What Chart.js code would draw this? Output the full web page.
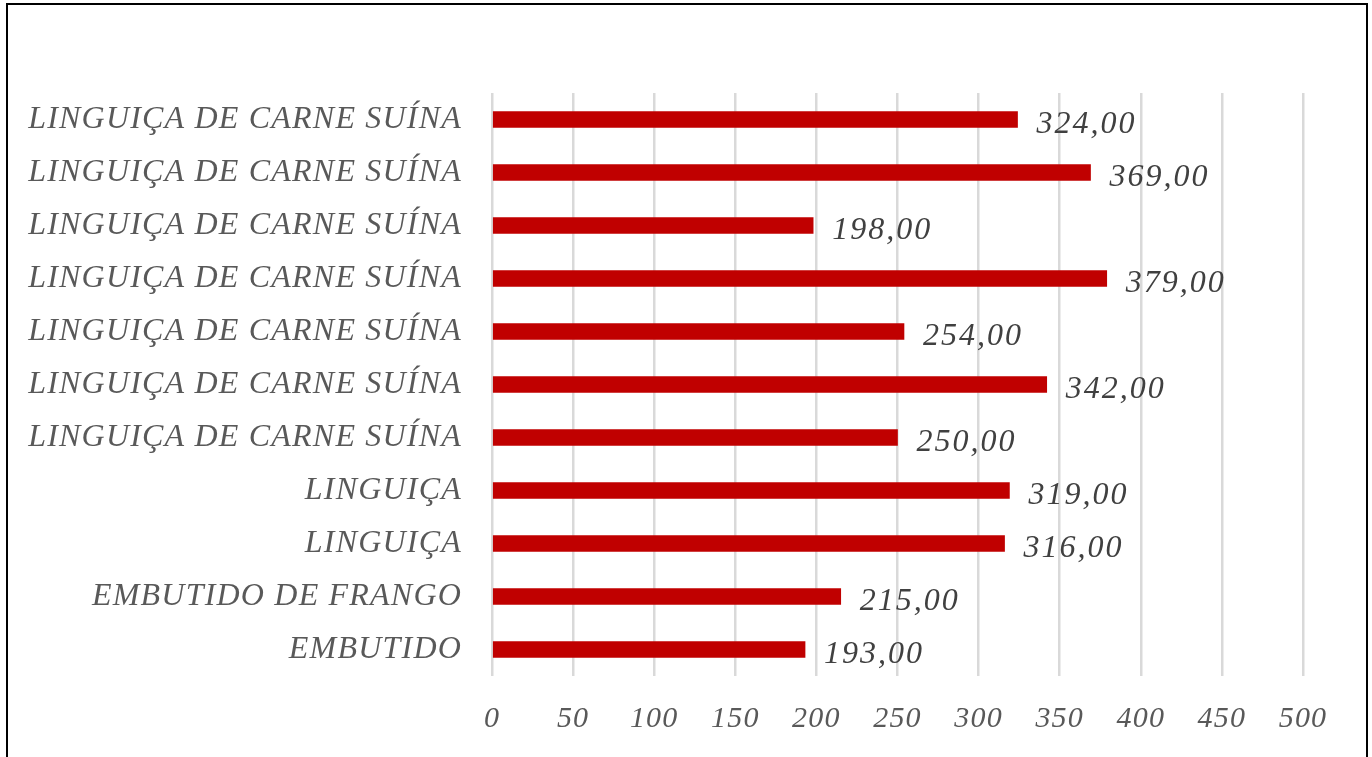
<!DOCTYPE html>
<html>
<head>
<meta charset="utf-8">
<script src="https://cdn.jsdelivr.net/npm/chart.js@4.4.1/dist/chart.umd.min.js"></script>
<style>
  html, body { margin: 0; padding: 0; background: #fff; overflow: hidden; }
  #wrap { position: absolute; left: 0; top: 0; width: 1372px; height: 757px; }
  #frame { position: absolute; left: 6px; top: 3px; width: 1358px; height: 790px; border: 2px solid #000; pointer-events: none; }
</style>
</head>
<body>
<div id="wrap"><canvas id="barChart" width="1372" height="757"></canvas></div>
<div id="frame"></div>
<script>
var categories = [
    'LINGUIÇA DE CARNE SUÍNA',
    'LINGUIÇA DE CARNE SUÍNA',
    'LINGUIÇA DE CARNE SUÍNA',
    'LINGUIÇA DE CARNE SUÍNA',
    'LINGUIÇA DE CARNE SUÍNA',
    'LINGUIÇA DE CARNE SUÍNA',
    'LINGUIÇA DE CARNE SUÍNA',
    'LINGUIÇA',
    'LINGUIÇA',
    'EMBUTIDO DE FRANGO',
    'EMBUTIDO'
];
var values = [324, 369, 198, 379, 254, 342, 250, 319, 316, 215, 193];
var xTicks = [0, 50, 100, 150, 200, 250, 300, 350, 400, 450, 500];

var serif = "'Liberation Serif', 'Times New Roman', serif";

// word-like text is a bit wider than Liberation Serif, so space it out
var spacing = {
    id: 'spacing',
    beforeLayout: function(chart) { chart.ctx.letterSpacing = '1.2px'; },
    beforeDraw: function(chart) { chart.ctx.letterSpacing = '1.2px'; }
};

// draw the "324,00" style labels at the end of each bar
var valueLabels = {
    id: 'valueLabels',
    afterDatasetsDraw: function(chart) {
        var ctx = chart.ctx;
        var meta = chart.getDatasetMeta(0);
        ctx.save();
        ctx.letterSpacing = '2px';
        ctx.font = 'italic 32px ' + serif;
        ctx.fillStyle = '#404040';
        ctx.textAlign = 'left';
        ctx.textBaseline = 'middle';
        meta.data.forEach(function(bar, i) {
            var txt = values[i].toFixed(2).replace('.', ',');
            ctx.fillText(txt, bar.x + 19, bar.y + 5);
        });
        ctx.restore();
    }
};

var chart = new Chart('barChart', {
    type: 'bar',
    data: {
        labels: categories,
        datasets: [{
            data: values,
            backgroundColor: '#C00000',
            borderWidth: 0,
            barThickness: 16
        }]
    },
    plugins: [spacing, valueLabels],
    options: {
        indexAxis: 'y',
        responsive: false,
        animation: false,
        layout: { padding: { top: 93, right: 69, left: 0, bottom: 0 } },
        plugins: {
            legend: { display: false },
            tooltip: { enabled: false }
        },
        scales: {
            x: {
                min: 0,
                max: 500,
                afterBuildTicks: function(scale) {
                    scale.ticks = xTicks.map(function(v) { return { value: v }; });
                },
                afterFit: function(scale) { scale.height = 81; },
                grid: { color: '#d9d9d9', lineWidth: 2.5, drawTicks: false },
                border: { display: false },
                ticks: {
                    padding: 25,
                    color: '#595959',
                    font: { family: serif, size: 30, style: 'italic' }
                }
            },
            y: {
                afterFit: function(scale) { scale.width = 492; },
                grid: { display: false, drawTicks: false },
                border: { display: false },
                ticks: {
                    padding: 30,
                    color: '#595959',
                    font: { family: serif, size: 32, style: 'italic' }
                }
            }
        }
    }
});
</script>
</body>
</html>
